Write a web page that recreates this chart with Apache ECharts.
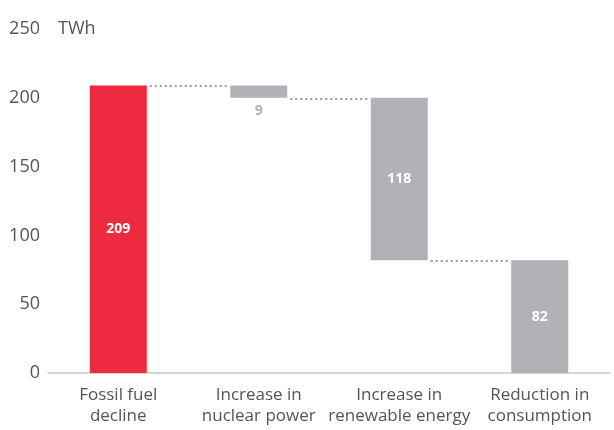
<!DOCTYPE html>
<html>
<head>
<meta charset="utf-8">
<script src="https://cdn.jsdelivr.net/npm/echarts@6/dist/echarts.min.js"></script>
<style>
  html, body { margin: 0; padding: 0; background: #fff; }
  #main { width: 614px; height: 430px; }
</style>
</head>
<body>
<div id="main"></div>
<script>
let categories = ['Fossil fuel\ndecline', 'Increase in\nnuclear power', 'Increase in\nrenewable energy', 'Reduction in\nconsumption'];
let values = [209, 9, 118, 82];
let yTicks = { min: 0, max: 250, interval: 50 };

// waterfall: first bar from 0, then each step goes down from the running total
let bases = [];
let tops = [];
let running = 0;
values.forEach(function (v, i) {
    if (i === 0) {
        bases.push(0);
        running = v;
        tops.push(v);
    } else {
        tops.push(running);
        running -= v;
        bases.push(running);
    }
});

let red = '#ee2a3e';
let grey = '#b1b2b6';
let barWidth = 57;

let barData = values.map(function (v, i) {
    let item = {
        value: v,
        itemStyle: { color: i === 0 ? red : grey },
        label: { color: '#fff', position: 'inside' }
    };
    if (v < 15) {
        item.label = { color: grey, position: 'bottom', distance: 6 };
    }
    return item;
});

// connector levels: [from category index, value]
let connectors = [];
for (let i = 0; i < values.length - 1; i++) {
    connectors.push([i, i === 0 ? tops[0] : bases[i]]);
}

let chartDom = document.getElementById('main');
let myChart = echarts.init(chartDom);
let option = {
    animation: false,
    textStyle: { fontFamily: 'Open Sans' },
    grid: { left: 48, right: 4, top: 29, bottom: 57 },
    xAxis: {
        type: 'category',
        data: categories,
        axisTick: { show: false },
        axisLine: { lineStyle: { color: '#c8c8c8', width: 1.5 } },
        axisLabel: { color: '#555', fontSize: 17, lineHeight: 21, margin: 12, interval: 0 }
    },
    yAxis: {
        type: 'value',
        min: yTicks.min,
        max: yTicks.max,
        interval: yTicks.interval,
        name: 'TWh',
        nameLocation: 'end',
        nameGap: 0,
        nameTextStyle: { color: '#555', fontSize: 18, align: 'left', verticalAlign: 'middle', padding: [0, 0, 0, 10] },
        splitLine: { show: false },
        axisLine: { show: false },
        axisTick: { show: false },
        axisLabel: { color: '#555', fontSize: 18, margin: 8 }
    },
    series: [
        {
            type: 'custom',
            silent: true,
            z: 1,
            data: connectors,
            renderItem: function (params, api) {
                let a = api.coord([api.value(0), api.value(1)]);
                let b = api.coord([api.value(0) + 1, api.value(1)]);
                let y = Math.round(a[1]) + 1;
                return {
                    type: 'line',
                    shape: { x1: a[0] + barWidth / 2 + 3, y1: y, x2: b[0] - barWidth / 2 - 2, y2: y },
                    style: { stroke: '#9a9a9a', lineWidth: 2, lineDash: [2, 3] }
                };
            }
        },
        {
            type: 'bar',
            stack: 'w',
            data: bases,
            barWidth: barWidth,
            itemStyle: { color: 'transparent' },
            silent: true,
            z: 2
        },
        {
            type: 'bar',
            stack: 'w',
            data: barData,
            barWidth: barWidth,
            z: 3,
            label: { show: true, fontWeight: 'bold', fontSize: 14 }
        }
    ]
};
myChart.setOption(option);
</script>
</body>
</html>
